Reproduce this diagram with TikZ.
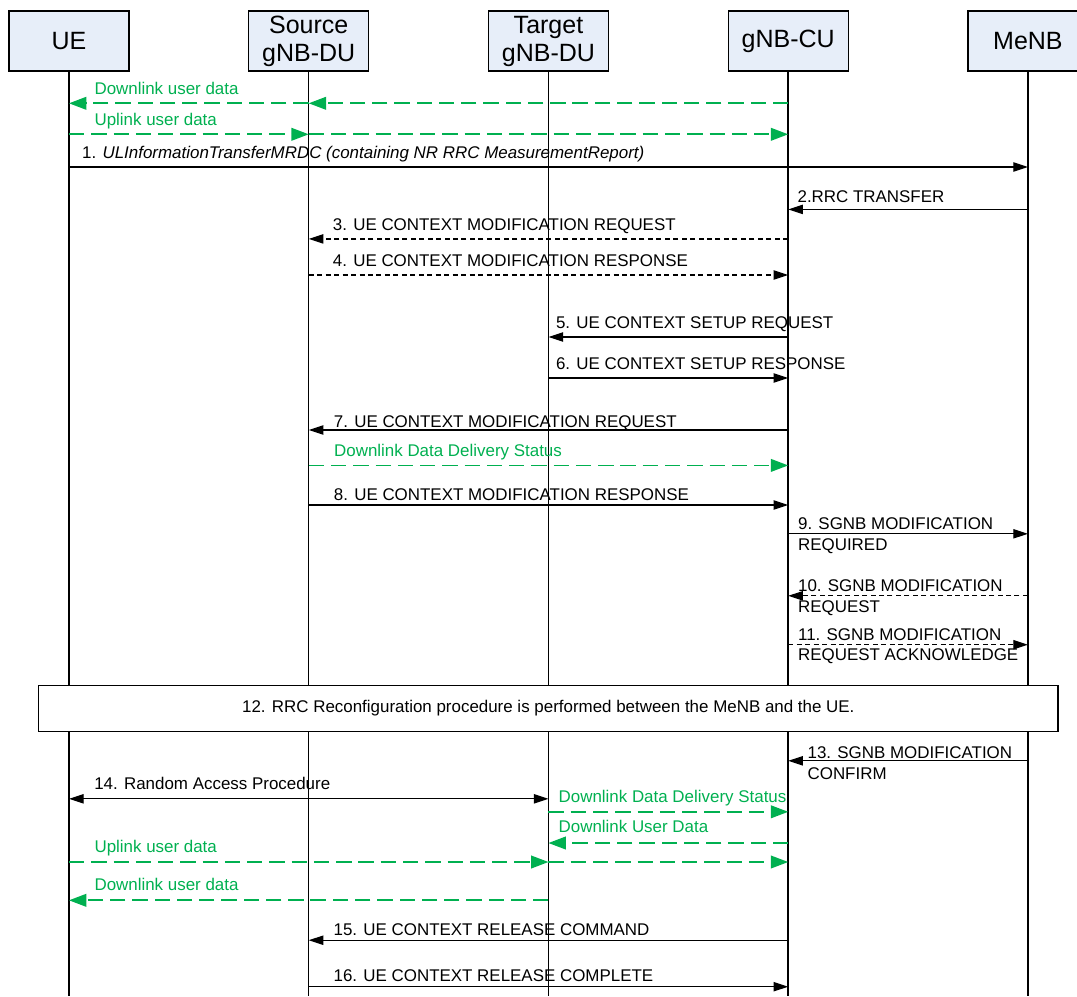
\documentclass[tikz,border=0pt]{standalone}
\usepackage{fontspec}
\setmainfont{Liberation Sans}
\usepackage{tikz}
\usetikzlibrary{positioning,arrows.meta}
\definecolor{hdblue}{RGB}{231,238,249}
\definecolor{ugreen}{RGB}{0,176,80}
\tikzset{
  hd/.style={rectangle, minimum width=90pt, minimum height=45pt, inner sep=0pt, text centered, align=center, draw=black, fill=hdblue, line width=0.9pt, font=\fontsize{18.75}{21}\selectfont},
  ll/.style={line width=1.1pt},
  msg/.style={->, >={Triangle[length=11pt,width=7pt]}, line width=0.9pt},
  bmsg/.style={msg, <->},
  dmsg/.style={msg, dash pattern=on 3.75pt off 2.6pt},
  dat/.style={->, >={Triangle[length=13pt,width=9.5pt]}, line width=1.25pt, draw=ugreen, dash pattern=on 11.5pt off 5.2pt},
  lbl/.style={anchor=base west, inner sep=0pt, font=\fontsize{12.7}{15}\selectfont},
  glbl/.style={lbl, text=ugreen},
  nb/.style={rectangle, minimum width=764.5pt, minimum height=34.9pt, draw=black, fill=white, line width=0.9pt, font=\fontsize{12.7}{15}\selectfont},
  node distance=88.9pt
}

\begin{document}
\begin{tikzpicture}[x=0.75pt, y=-0.75pt]
	\useasboundingbox (0,0) rectangle (1077,996);

	\node[hd] (ue) at (69,41) {UE};
	\node[hd, right=of ue] (src) {Source\\gNB-DU};
	\node[hd, right=of src] (tgt) {Target\\gNB-DU};
	\node[hd, right=of tgt] (cu) {gNB-CU};
	\node[hd, right=of cu] (menb) {MeNB};

	\coordinate (bot) at (0,996);
	\foreach \n in {ue,src,tgt,cu,menb}
		\draw[ll] (\n.south) -- (\n.south |- bot);

	\draw[dat] (cu |- 0,103.3) -- (src |- 0,103.3);
	\draw[dat] (src |- 0,103.3) -- (ue |- 0,103.3) node[glbl] at (93.7,94.7) {Downlink user data};
	\draw[dat] (ue |- 0,134.3) -- (src |- 0,134.3) node[glbl] at (93.7,125.7) {Uplink user data};
	\draw[dat] (src |- 0,134.3) -- (cu |- 0,134.3);

	\draw[msg] (ue |- 0,167) -- (menb |- 0,167) node[lbl] at (81.6,158.4) {1. \textit{ULInformationTransferMRDC (containing NR RRC MeasurementReport)}};
	\draw[msg] (menb |- 0,209.4) -- (cu |- 0,209.4) node[lbl] at (797,202.5) {2.RRC TRANSFER};
	\draw[dmsg] (cu |- 0,238.9) -- (src |- 0,238.9) node[lbl] at (332.3,230.3) {3. UE CONTEXT MODIFICATION REQUEST};
	\draw[dmsg] (src |- 0,275) -- (cu |- 0,275) node[lbl] at (332.3,266.4) {4. UE CONTEXT MODIFICATION RESPONSE};
	\draw[msg] (cu |- 0,337) -- (tgt |- 0,337) node[lbl] at (555.4,328) {5. UE CONTEXT SETUP REQUEST};
	\draw[msg] (tgt |- 0,378) -- (cu |- 0,378) node[lbl] at (555.4,369.5) {6. UE CONTEXT SETUP RESPONSE};
	\draw[msg] (cu |- 0,430) -- (src |- 0,430) node[lbl] at (333.3,427) {7. UE CONTEXT MODIFICATION REQUEST};
	\draw[dat] (src |- 0,465.4) -- (cu |- 0,465.4) node[glbl] at (333.3,456.8) {Downlink Data Delivery Status};
	\draw[msg] (src |- 0,505) -- (cu |- 0,505) node[lbl] at (333.3,500.5) {8. UE CONTEXT MODIFICATION RESPONSE};

	\draw[msg] (cu |- 0,533.8) -- (menb |- 0,533.8)
		node[lbl] at (797.5,529.7) {9. SGNB MODIFICATION}
		node[lbl] at (797.5,550.2) {REQUIRED};
	\draw[dmsg] (menb |- 0,595.8) -- (cu |- 0,595.8)
		node[lbl] at (797.5,591.3) {10. SGNB MODIFICATION}
		node[lbl] at (797.5,612.9) {REQUEST};
	\draw[dmsg] (cu |- 0,644.7) -- (menb |- 0,644.7)
		node[lbl] at (797.5,640.3) {11. SGNB MODIFICATION}
		node[lbl] at (797.5,660.8) {REQUEST ACKNOWLEDGE};

	\node[nb] (rrc) at (548.3,708.5) {12. RRC Reconfiguration procedure is performed between the MeNB and the UE.};

	\draw[msg] (menb |- 0,760.8) -- (cu |- 0,760.8)
		node[lbl] at (807,758) {13. SGNB MODIFICATION}
		node[lbl] at (807,779.3) {CONFIRM};
	\draw[bmsg] (ue |- 0,798.8) -- (tgt |- 0,798.8) node[lbl] at (93.7,789.5) {14. Random Access Procedure};
	\draw[dat] (tgt |- 0,811.8) -- (cu |- 0,811.8) node[glbl] at (557.8,802.6) {Downlink Data Delivery Status};
	\draw[dat] (cu |- 0,843) -- (tgt |- 0,843) node[glbl] at (557.8,832.4) {Downlink User Data};
	\draw[dat] (ue |- 0,862) -- (tgt |- 0,862) node[glbl] at (93.7,852.2) {Uplink user data};
	\draw[dat] (tgt |- 0,862) -- (cu |- 0,862);
	\draw[dat] (tgt |- 0,900.3) -- (ue |- 0,900.3) node[glbl] at (93.7,890.3) {Downlink user data};
	\draw[msg] (cu |- 0,940.2) -- (src |- 0,940.2) node[lbl] at (333,935) {15. UE CONTEXT RELEASE COMMAND};
	\draw[msg] (src |- 0,986.7) -- (cu |- 0,986.7) node[lbl] at (333,981.2) {16. UE CONTEXT RELEASE COMPLETE};
\end{tikzpicture}
\end{document}
